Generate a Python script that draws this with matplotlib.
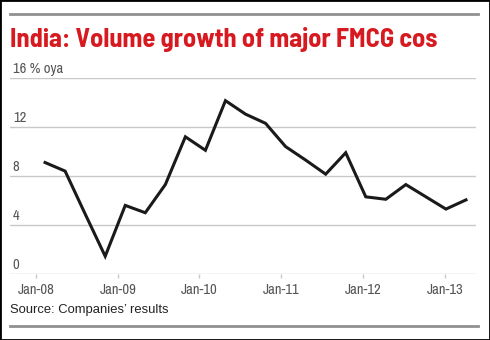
import matplotlib.pyplot as plt
import matplotlib.transforms as mtransforms
from matplotlib.patches import Rectangle
from matplotlib.lines import Line2D
import numpy as np

# quarterly volume growth, % oya (Q1-08 .. Q2-13)
quarters = ["Q1-08", "Q2-08", "Q3-08", "Q4-08",
            "Q1-09", "Q2-09", "Q3-09", "Q4-09",
            "Q1-10", "Q2-10", "Q3-10", "Q4-10",
            "Q1-11", "Q2-11", "Q3-11", "Q4-11",
            "Q1-12", "Q2-12", "Q3-12", "Q4-12",
            "Q1-13", "Q2-13"]
growth = [9.1, 8.4, 4.9, 1.45,
          5.6, 5.0, 7.3, 11.2,
          10.1, 14.15, 13.05, 12.3,
          10.4, 9.3, 8.15, 9.9,
          6.3, 6.1, 7.3, 6.3,
          5.3, 6.05]
year_labels = ["Jan-08", "Jan-09", "Jan-10", "Jan-11", "Jan-12", "Jan-13"]
year_pos = [-0.45, 3.64, 7.70, 11.79, 15.88, 19.97]   # where Jan falls on the quarter axis
y_ticks = [0, 4, 8, 12, 16]

RED = "#d71920"
GREY = "#555555"
GRID = "#c8c8c8"
FONT = ["Archivo Narrow", "Roboto Condensed", "DejaVu Sans"]
TFONT = ["Barlow Semi Condensed", "Roboto Condensed", "DejaVu Sans"]

fig = plt.figure(figsize=(4.9, 3.4), dpi=100)
ax = fig.add_axes([10/490, 1 - 274/340, 466/490, 196/340])

x = np.arange(len(quarters))
ax.plot(x, growth, color="#1a1a1a", linewidth=2.2, solid_joinstyle="miter", zorder=3)

ax.set_xlim(-1.75, 21.5)
ax.set_ylim(0, 16)
for v in y_ticks:
    ax.axhline(v, color=GRID, linewidth=1.0, zorder=1)

# y labels sit above the gridlines on the left
off = mtransforms.offset_copy(ax.transData, fig=fig, x=2, y=1.5, units="points")
for v in y_ticks:
    lab = str(v) + (" % oya" if v == 16 else "")
    ax.text(-1.75, v, lab, transform=off, ha="left", va="bottom",
            fontsize=10.5, color=GREY, family=FONT)

ax.set_yticks([])
ax.set_xticks(year_pos)
ax.set_xticklabels(year_labels, family=FONT, fontsize=10.5, color=GREY)
ax.tick_params(axis="x", length=3, width=1, color=GRID, pad=3.5)
for s in ax.spines.values():
    s.set_visible(False)

# title, rules, source, frame
title = fig.text(10/490, 1 - 39/340, "India: Volume growth of major FMCG cos", color=RED,
                 fontsize=16, fontweight="bold", family=TFONT, va="center", ha="left")
r = fig.canvas.get_renderer()
w = title.get_window_extent(r).width
title.set_fontsize(16 * 427 / w)

fig.add_artist(Line2D([10/490, 478/490], [1 - 14/340] * 2, color="#909090", linewidth=2))
fig.add_artist(Line2D([10/490, 478/490], [1 - 326/340] * 2, color="#909090", linewidth=2))
fig.text(10/490, 1 - 310/340, "Source: Companies\u2019 results", color="#222222",
         fontsize=9.4, family=["Liberation Sans", "DejaVu Sans"], va="center", ha="left")
fig.add_artist(Rectangle((0, 0), 1, 1, transform=fig.transFigure, fill=False,
                         edgecolor="black", linewidth=2))

fig.savefig("out.png", dpi=100)
